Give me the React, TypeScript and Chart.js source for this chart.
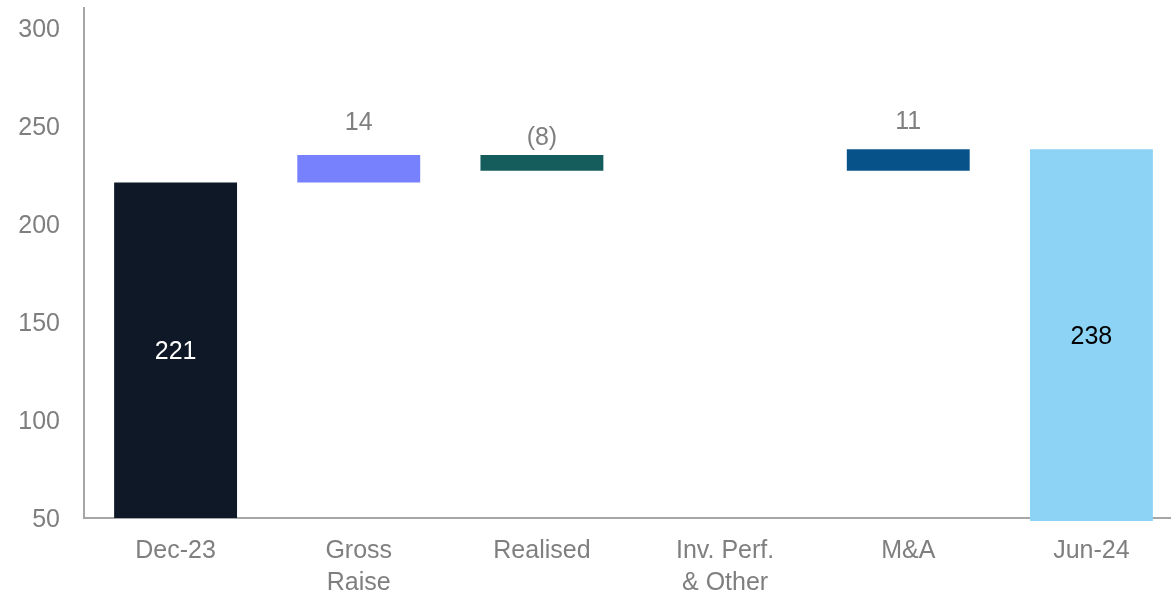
import React, { useEffect, useRef } from "react";
import { Chart, registerables } from "chart.js";

Chart.register(...registerables);

const categories: (string | string[])[] = [
  "Dec-23",
  ["Gross", "Raise"],
  "Realised",
  ["Inv. Perf.", "& Other"],
  "M&A",
  "Jun-24",
];
const startValue = 221;
const changes = [14, -8, 0, 11];
const endValue = 238;
const endBase = 48.5; // Jun-24 bar dips slightly below the axis line
const yTicks = [50, 100, 150, 200, 250, 300];
const barColors = ["#0e1827", "#7780fd", "#155c5c", "#ffffff", "#08528a", "#8cd3f6"];
const labelOffsets = [0, 32, 17, 0, 27, 0];

const FONT = "'Liberation Sans', Arial, sans-serif";
const GREY = "#7f7f7f";
const FS = 25;

export default function App() {
  const ref = useRef<HTMLCanvasElement | null>(null);

  useEffect(() => {
    if (!ref.current) return;
    const axisMin = yTicks[0];
    const floating: [number, number][] = [];
    const labels: string[] = [];
    floating.push([axisMin, startValue]);
    labels.push(String(startValue));
    let level = startValue;
    changes.forEach((c) => {
      floating.push([level, level + c]);
      labels.push(c === 0 ? "" : c < 0 ? `(${Math.abs(c)})` : String(c));
      level += c;
    });
    floating.push([endBase, endValue]);
    labels.push(String(endValue));

    const labelPlugin = {
      id: "wfLabels",
      afterDatasetsDraw(chart: any) {
        const ctx = chart.ctx;
        const meta = chart.getDatasetMeta(0);
        ctx.save();
        ctx.font = `${FS}px ${FONT}`;
        ctx.textAlign = "center";
        ctx.textBaseline = "middle";
        meta.data.forEach((el: any, i: number) => {
          const txt = labels[i];
          if (!txt) return;
          const isTotal = i === 0 || i === labels.length - 1;
          const top = Math.min(el.y, el.base);
          const bot = Math.max(el.y, el.base);
          if (isTotal) {
            ctx.fillStyle = i === 0 ? "#ffffff" : "#000000";
            ctx.fillText(txt, el.x, (top + bot) / 2 + 2);
          } else {
            ctx.fillStyle = GREY;
            ctx.fillText(txt, el.x, top - labelOffsets[i]);
          }
        });
        ctx.restore();
      },
    };

    const chart = new Chart(ref.current, {
      type: "bar",
      data: {
        labels: categories as any,
        datasets: [
          {
            data: floating as any,
            backgroundColor: barColors,
            borderWidth: 0,
            borderSkipped: false,
            categoryPercentage: 1,
            barPercentage: 0.671,
            clip: false as any,
          },
        ],
      },
      options: {
        animation: false,
        responsive: true,
        maintainAspectRatio: false,
        layout: { padding: { top: 8, right: 0, left: 0, bottom: 0 } },
        plugins: {
          legend: { display: false },
          tooltip: { enabled: false },
        },
        scales: {
          x: {
            z: 1,
            grid: { display: false, drawTicks: false },
            border: { display: true, color: "#a6a6a6", width: 2 },
            ticks: {
              color: GREY,
              font: { family: FONT, size: FS, lineHeight: 1.28 },
              padding: 17,
              maxRotation: 0,
              autoSkip: false,
            },
            afterFit: (s: any) => {
              s.height = 76;
              s.paddingLeft = 0;
              s.paddingRight = 0;
            },
          },
          y: {
            min: yTicks[0],
            max: 310,
            grid: { display: false, drawTicks: false },
            border: { display: true, color: "#a6a6a6", width: 2 },
            ticks: {
              stepSize: 50,
              color: GREY,
              font: { family: FONT, size: FS },
              padding: 24,
              labelOffset: 2,
            },
            afterBuildTicks: (s: any) => {
              s.ticks = yTicks.map((v) => ({ value: v }));
            },
            afterFit: (s: any) => {
              s.width = 84;
              s.paddingTop = 0;
              s.paddingBottom = 0;
            },
          },
        },
      },
      plugins: [labelPlugin],
    });
    return () => chart.destroy();
  }, []);

  return (
    <div
      style={{
        position: "fixed",
        left: 0,
        top: 0,
        width: 1171,
        height: 594,
        overflow: "hidden",
        background: "#ffffff",
      }}
    >
      <div style={{ position: "relative", width: 1183, height: 594 }}>
        <canvas ref={ref} />
      </div>
    </div>
  );
}
